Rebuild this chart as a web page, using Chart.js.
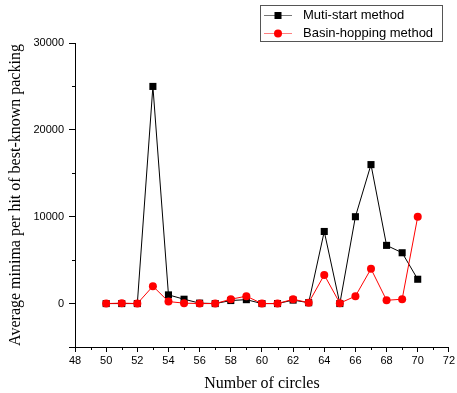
<!DOCTYPE html>
<html><head><meta charset="utf-8">
<script src="https://cdn.jsdelivr.net/npm/chart.js@4/dist/chart.umd.min.js"></script>
<style>html,body{margin:0;padding:0;background:#fff}#wrap{position:relative;width:457px;height:393px}</style>
</head><body><div id="wrap"><canvas id="c" width="457" height="393"></canvas></div>
<script>
const circles = [50,51,52,53,54,55,56,57,58,59,60,61,62,63,64,65,66,67,68,69,70];
const mutiStart = [0,0,0,25000,1000,500,50,0,350,450,0,0,400,100,8300,0,10000,16000,6700,5850,2800];
const basinHopping = [0,50,0,2000,230,50,0,0,500,850,0,0,500,100,3300,50,850,4000,380,500,10000];
const seriesNames = ['Muti-start method','Basin-hopping method'];
const xMajorTicks = [48,50,52,54,56,58,60,62,64,66,68,70,72];
const yMajorTicks = [0,10000,20000,30000];

const legendPlugin = {
  id:'customLegend',
  afterDraw(chart){
    const ctx = chart.ctx;
    ctx.save();
    ctx.strokeStyle='#555'; ctx.lineWidth=1;
    ctx.strokeRect(260.5,5.5,182,36);
    const rows=[{y:15.5,color:'#000',line:'#777',shape:'rect'},{y:33.5,color:'#ff0000',line:'#ff8080',shape:'circle'}];
    rows.forEach((r,i)=>{
      ctx.strokeStyle=r.line; ctx.lineWidth=1;
      ctx.beginPath(); ctx.moveTo(264,r.y); ctx.lineTo(292,r.y); ctx.stroke();
      ctx.fillStyle=r.color;
      if(r.shape==='rect'){ctx.fillRect(274.5,r.y-3.5,7,7);}
      else{ctx.beginPath();ctx.arc(278,r.y,4,0,Math.PI*2);ctx.fill();}
      ctx.fillStyle='#000'; ctx.font='13px "Liberation Sans", Arial, sans-serif';
      ctx.textBaseline='middle'; ctx.textAlign='left';
      ctx.fillText(seriesNames[i],303,r.y);
    });
    // minor ticks
    const xs=chart.scales.x, ys=chart.scales.y;
    ctx.strokeStyle='#000'; ctx.lineWidth=1;
    ctx.beginPath();
    for(let v=49; v<=71; v+=2){const px=Math.round(xs.getPixelForValue(v))+0.5; ctx.moveTo(px,xs.top); ctx.lineTo(px,xs.top+3);}
    for(let v=5000; v<=25000; v+=10000){const py=Math.round(ys.getPixelForValue(v))+0.5; ctx.moveTo(ys.right,py); ctx.lineTo(ys.right-3,py);}
    const pb=Math.round(ys.getPixelForValue(-5000))+0.5; ctx.moveTo(ys.right,pb); ctx.lineTo(ys.right-6,pb);
    ctx.stroke();
    ctx.restore();
  }
};

new Chart(document.getElementById('c'),{
  type:'line',
  data:{datasets:[
    {label:seriesNames[1],data:circles.map((x,i)=>({x,y:basinHopping[i]})),borderColor:'#ff0000',backgroundColor:'#ff0000',borderWidth:1,pointStyle:'circle',pointRadius:4,pointBorderWidth:0,tension:0},
    {label:seriesNames[0],data:circles.map((x,i)=>({x,y:mutiStart[i]})),borderColor:'#000',backgroundColor:'#000',borderWidth:1,pointStyle:'rect',pointRadius:5,pointBorderWidth:0,tension:0}
  ]},
  options:{
    responsive:false,animation:false,
    layout:{padding:{top:43,right:4,left:0,bottom:0}},
    plugins:{legend:{display:false},tooltip:{enabled:false}},
    scales:{
      x:{type:'linear',min:48,max:72,
        afterBuildTicks:s=>{s.ticks=xMajorTicks.map(v=>({value:v}));},
        afterFit:s=>{s.height=46;},
        border:{display:true,color:'#000',width:1},
        grid:{drawOnChartArea:false,drawTicks:true,tickLength:5,color:'#000'},
        ticks:{color:'#000',font:{family:'"Liberation Sans", Arial, sans-serif',size:11},padding:2,maxRotation:0,callback:v=>String(v)},
        title:{display:true,text:'Number of circles',color:'#000',font:{family:'"Liberation Serif", "Times New Roman", serif',size:16},padding:{top:4,bottom:0}}
      },
      y:{type:'linear',min:-5000,max:30000,
        afterBuildTicks:s=>{s.ticks=yMajorTicks.map(v=>({value:v}));},
        afterFit:s=>{s.width=75;},
        border:{display:true,color:'#000',width:1},
        grid:{drawOnChartArea:false,drawTicks:true,tickLength:6,color:'#000'},
        ticks:{color:'#000',font:{family:'"Liberation Sans", Arial, sans-serif',size:11},padding:5,callback:v=>String(v)},
        title:{display:true,text:'Average minima per hit of best-known packing',color:'#000',font:{family:'"Liberation Serif", "Times New Roman", serif',size:16},padding:{top:6,bottom:0}}
      }
    }
  },
  plugins:[legendPlugin]
});
</script></body></html>
